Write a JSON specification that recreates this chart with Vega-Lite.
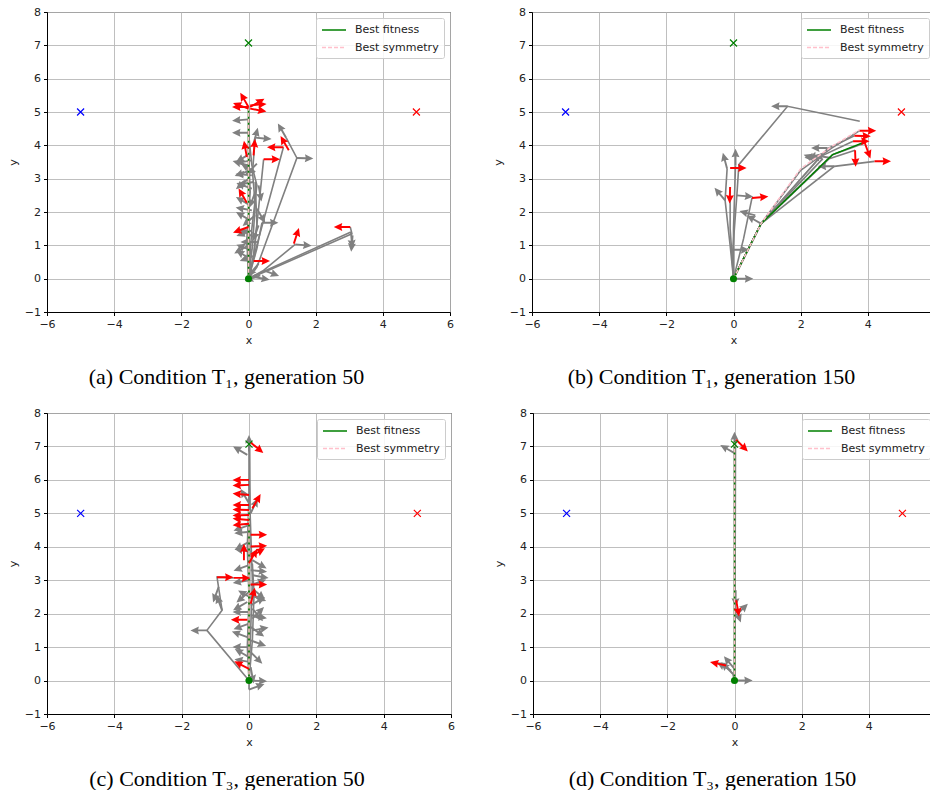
{
"$schema": "https://vega.github.io/schema/vega-lite/v6.json",
"padding": {"left": 6, "top": 5, "right": 0, "bottom": 0},
"config": {
  "font": "DejaVu Sans",
  "view": {"stroke": "#000", "strokeWidth": 1},
  "axis": {"domainColor": "#000", "domainWidth": 1, "tickColor": "#000", "tickSize": 3.5, "tickWidth": 1, "labelFont": "DejaVu Sans", "labelFontSize": 11, "labelColor": "#222", "labelPadding": 3, "titleFont": "DejaVu Sans", "titleFontSize": 11, "titleFontWeight": "normal", "titleColor": "#222", "gridColor": "#b8b8b8", "gridWidth": 0.9, "gridOpacity": 1, "labelFlush": false},
  "axisX": {"titlePadding": 5},
  "axisY": {"titlePadding": 6},
  "legend": {"orient": "top-right", "offset": 6, "padding": 5, "strokeColor": "#cccccc", "fillColor": "rgba(255,255,255,0.85)", "cornerRadius": 2, "labelFont": "DejaVu Sans", "labelFontSize": 11, "labelColor": "#222", "symbolType": "M-1,0L3,0", "symbolSize": 144, "symbolStrokeWidth": 1.5, "labelOffset": 20, "rowPadding": 5.6},
  "title": {"orient": "bottom", "anchor": "middle", "font": "Liberation Serif", "fontSize": 22, "fontWeight": "normal", "color": "#000", "offset": 21, "dx": -22}
},
"datasets": {
"points": [
  {"k": "goal", "x": 0, "y": 7.07},
  {"k": "left", "x": -5, "y": 5},
  {"k": "right", "x": 5, "y": 5},
  {"k": "start", "x": 0, "y": 0}
],
"best": [
  {"p":"a","s":"Best fitness","o":0,"x":0,"y":0},{"p":"a","s":"Best fitness","o":1,"x":0,"y":5.13},
  {"p":"a","s":"Best symmetry","o":0,"x":0,"y":0},{"p":"a","s":"Best symmetry","o":1,"x":0,"y":5.13},
  {"p":"b","s":"Best fitness","o":0,"x":0,"y":0},{"p":"b","s":"Best fitness","o":1,"x":0.82,"y":1.65},{"p":"b","s":"Best fitness","o":2,"x":2.95,"y":3.72},{"p":"b","s":"Best fitness","o":3,"x":3.91,"y":4.1},
  {"p":"b","s":"Best symmetry","o":0,"x":0,"y":0},{"p":"b","s":"Best symmetry","o":1,"x":0.82,"y":1.65},{"p":"b","s":"Best symmetry","o":2,"x":2.0,"y":3.3},{"p":"b","s":"Best symmetry","o":3,"x":2.9,"y":3.95},{"p":"b","s":"Best symmetry","o":4,"x":3.76,"y":4.47},
  {"p":"c","s":"Best fitness","o":0,"x":0,"y":0},{"p":"c","s":"Best fitness","o":1,"x":0,"y":5.1},
  {"p":"c","s":"Best symmetry","o":0,"x":0,"y":0},{"p":"c","s":"Best symmetry","o":1,"x":0,"y":5.1},
  {"p":"d","s":"Best fitness","o":0,"x":0,"y":0},{"p":"d","s":"Best fitness","o":1,"x":0,"y":7.15},
  {"p":"d","s":"Best symmetry","o":0,"x":0,"y":0},{"p":"d","s":"Best symmetry","o":1,"x":0,"y":7.15}
],
"paths": [
  {"p":"a","id":1,"o":0,"x":0,"y":0},{"p":"a","id":1,"o":1,"x":0.02,"y":1.0},{"p":"a","id":1,"o":2,"x":0,"y":2.5},{"p":"a","id":1,"o":3,"x":0.02,"y":4.0},{"p":"a","id":1,"o":4,"x":0,"y":5.15},
  {"p":"a","id":2,"o":0,"x":0,"y":0},{"p":"a","id":2,"o":1,"x":0.12,"y":1.0},{"p":"a","id":2,"o":2,"x":0.2,"y":2.2},{"p":"a","id":2,"o":3,"x":0.12,"y":3.2},{"p":"a","id":2,"o":4,"x":0.2,"y":4.23},
  {"p":"a","id":3,"o":0,"x":0,"y":0},{"p":"a","id":3,"o":1,"x":0.1,"y":0.45},{"p":"a","id":3,"o":2,"x":1.04,"y":3.94},
  {"p":"a","id":4,"o":0,"x":0,"y":0},{"p":"a","id":4,"o":1,"x":0.25,"y":0.35},{"p":"a","id":4,"o":2,"x":1.44,"y":3.62},{"p":"a","id":4,"o":3,"x":1.12,"y":4.23},
  {"p":"a","id":5,"o":0,"x":0,"y":0},{"p":"a","id":5,"o":1,"x":0.6,"y":0.25},{"p":"a","id":5,"o":2,"x":3.08,"y":1.35},{"p":"a","id":5,"o":3,"x":3.03,"y":1.55},
  {"p":"a","id":6,"o":0,"x":0,"y":0},{"p":"a","id":6,"o":1,"x":0.45,"y":0.25},{"p":"a","id":6,"o":2,"x":1.39,"y":1.03},
  {"p":"a","id":7,"o":0,"x":0,"y":0},{"p":"a","id":7,"o":1,"x":0.3,"y":0.15},{"p":"a","id":7,"o":2,"x":3.05,"y":1.4},
  {"p":"a","id":8,"o":0,"x":0,"y":0},{"p":"a","id":8,"o":1,"x":0.25,"y":0.9},{"p":"a","id":8,"o":2,"x":0.4,"y":1.68},
  {"p":"a","id":9,"o":0,"x":0,"y":0},{"p":"a","id":9,"o":1,"x":0.1,"y":1.5},{"p":"a","id":9,"o":2,"x":0.25,"y":2.8},{"p":"a","id":9,"o":3,"x":0.1,"y":3.4},{"p":"a","id":9,"o":4,"x":0,"y":4.38},
  {"p":"a","id":10,"o":0,"x":0,"y":0},{"p":"a","id":10,"o":1,"x":0.15,"y":0.7},{"p":"a","id":10,"o":2,"x":0.3,"y":2.1},{"p":"a","id":10,"o":3,"x":0.45,"y":3.58},
  {"p":"a","id":11,"o":0,"x":0,"y":0},{"p":"a","id":11,"o":1,"x":-0.05,"y":1.2},{"p":"a","id":11,"o":2,"x":0.05,"y":2.6},{"p":"a","id":11,"o":3,"x":0,"y":3.75},{"p":"a","id":11,"o":4,"x":0,"y":4.78},
  {"p":"a","id":12,"o":0,"x":0,"y":0},{"p":"a","id":12,"o":1,"x":0.15,"y":0.6},{"p":"a","id":12,"o":2,"x":0.25,"y":1.6},{"p":"a","id":12,"o":3,"x":0.2,"y":2.9},
  {"p":"b","id":1,"o":0,"x":0,"y":0},{"p":"b","id":1,"o":1,"x":0.82,"y":1.65},{"p":"b","id":1,"o":2,"x":2.0,"y":3.25},{"p":"b","id":1,"o":3,"x":2.9,"y":3.9},{"p":"b","id":1,"o":4,"x":3.76,"y":4.44},
  {"p":"b","id":2,"o":0,"x":0,"y":0},{"p":"b","id":2,"o":1,"x":0.82,"y":1.65},{"p":"b","id":2,"o":2,"x":2.95,"y":3.72},{"p":"b","id":2,"o":3,"x":3.91,"y":4.07},
  {"p":"b","id":3,"o":0,"x":0,"y":0},{"p":"b","id":3,"o":1,"x":0.82,"y":1.65},{"p":"b","id":3,"o":2,"x":3.0,"y":3.37},{"p":"b","id":3,"o":3,"x":4.2,"y":3.52},
  {"p":"b","id":4,"o":0,"x":0,"y":0},{"p":"b","id":4,"o":1,"x":0.82,"y":1.65},{"p":"b","id":4,"o":2,"x":2.6,"y":3.67},{"p":"b","id":4,"o":3,"x":3.56,"y":4.12},
  {"p":"b","id":5,"o":0,"x":0,"y":0},{"p":"b","id":5,"o":1,"x":0.82,"y":1.65},{"p":"b","id":5,"o":2,"x":2.8,"y":3.9},{"p":"b","id":5,"o":3,"x":3.6,"y":4.29},
  {"p":"b","id":6,"o":0,"x":0,"y":0},{"p":"b","id":6,"o":1,"x":0.82,"y":1.65},{"p":"b","id":6,"o":2,"x":2.85,"y":3.6},{"p":"b","id":6,"o":3,"x":3.62,"y":3.85},
  {"p":"b","id":7,"o":0,"x":0,"y":0},{"p":"b","id":7,"o":1,"x":-0.02,"y":0.87},{"p":"b","id":7,"o":2,"x":0.1,"y":2.5},{"p":"b","id":7,"o":3,"x":0.16,"y":3.42},{"p":"b","id":7,"o":4,"x":1.61,"y":5.17},{"p":"b","id":7,"o":5,"x":3.76,"y":4.72},
  {"p":"b","id":8,"o":0,"x":0,"y":0},{"p":"b","id":8,"o":1,"x":-0.1,"y":1.0},{"p":"b","id":8,"o":2,"x":-0.25,"y":2.35},{"p":"b","id":8,"o":3,"x":-0.19,"y":3.3},
  {"p":"b","id":9,"o":0,"x":0,"y":0},{"p":"b","id":9,"o":1,"x":0,"y":1.5},{"p":"b","id":9,"o":2,"x":0.06,"y":3.4},
  {"p":"b","id":10,"o":0,"x":0,"y":0},{"p":"b","id":10,"o":1,"x":0.3,"y":1.2},{"p":"b","id":10,"o":2,"x":0.55,"y":2.42},
  {"p":"b","id":11,"o":0,"x":0,"y":0},{"p":"b","id":11,"o":1,"x":-0.1,"y":1.5},{"p":"b","id":11,"o":2,"x":-0.1,"y":2.75},
  {"p":"b","id":12,"o":0,"x":0,"y":0},{"p":"b","id":12,"o":1,"x":0.82,"y":1.65},{"p":"b","id":12,"o":2,"x":2.66,"y":3.6},
  {"p":"c","id":1,"o":0,"x":0,"y":0},{"p":"c","id":1,"o":1,"x":0,"y":2},{"p":"c","id":1,"o":2,"x":0,"y":4},{"p":"c","id":1,"o":3,"x":0,"y":5.1},{"p":"c","id":1,"o":4,"x":0,"y":7.1},
  {"p":"c","id":2,"o":0,"x":0,"y":0},{"p":"c","id":2,"o":1,"x":0.02,"y":3},{"p":"c","id":2,"o":2,"x":0.03,"y":5.5},{"p":"c","id":2,"o":3,"x":0.02,"y":7.15},
  {"p":"c","id":3,"o":0,"x":0,"y":0},{"p":"c","id":3,"o":1,"x":-1.25,"y":1.5},{"p":"c","id":3,"o":2,"x":-0.8,"y":2.1},{"p":"c","id":3,"o":3,"x":-0.95,"y":3.09},{"p":"c","id":3,"o":4,"x":-0.45,"y":3.07},
  {"p":"c","id":4,"o":0,"x":0,"y":0},{"p":"c","id":4,"o":1,"x":0.05,"y":1.5},{"p":"c","id":4,"o":2,"x":0.1,"y":3.0},{"p":"c","id":4,"o":3,"x":0.05,"y":4.5},{"p":"c","id":4,"o":4,"x":0,"y":6.0},
  {"p":"c","id":5,"o":0,"x":0,"y":0},{"p":"c","id":5,"o":1,"x":0,"y":-0.27},
  {"p":"c","id":6,"o":0,"x":0,"y":0},{"p":"c","id":6,"o":1,"x":-0.05,"y":1.0},{"p":"c","id":6,"o":2,"x":0,"y":2.5},{"p":"c","id":6,"o":3,"x":-0.05,"y":4.0},{"p":"c","id":6,"o":4,"x":0,"y":5.5},
  {"p":"c","id":7,"o":0,"x":0,"y":0},{"p":"c","id":7,"o":1,"x":0.1,"y":1.2},{"p":"c","id":7,"o":2,"x":0.15,"y":2.6},{"p":"c","id":7,"o":3,"x":0.1,"y":3.5},
  {"p":"d","id":1,"o":0,"x":0,"y":0},{"p":"d","id":1,"o":1,"x":0,"y":7.15},
  {"p":"d","id":2,"o":0,"x":0,"y":0},{"p":"d","id":2,"o":1,"x":0.02,"y":2.0},{"p":"d","id":2,"o":2,"x":0.03,"y":2.7},
  {"p":"d","id":3,"o":0,"x":0,"y":0},{"p":"d","id":3,"o":1,"x":-0.05,"y":0.2},{"p":"d","id":3,"o":2,"x":-0.25,"y":0.45},
  {"p":"d","id":4,"o":0,"x":0,"y":0},{"p":"d","id":4,"o":1,"x":0.02,"y":3.5},{"p":"d","id":4,"o":2,"x":0.03,"y":7.2}
],
"arrows": [
  {"p":"a","c":"g","x":0,"y":4.78,"a":265},{"p":"a","c":"g","x":0,"y":4.38,"a":270},{"p":"a","c":"g","x":0.2,"y":4.23,"a":95},{"p":"a","c":"g","x":0.15,"y":4.05,"a":15},
  {"p":"a","c":"g","x":0.05,"y":3.75,"a":240},{"p":"a","c":"g","x":0.1,"y":3.55,"a":260},{"p":"a","c":"g","x":0,"y":3.4,"a":285},{"p":"a","c":"g","x":0.05,"y":3.25,"a":250},{"p":"a","c":"g","x":0.1,"y":3.1,"a":275},{"p":"a","c":"g","x":0,"y":3.0,"a":230},{"p":"a","c":"g","x":0.2,"y":3.2,"a":300},{"p":"a","c":"g","x":0.15,"y":2.9,"a":260},{"p":"a","c":"g","x":0.1,"y":2.7,"a":290},{"p":"a","c":"g","x":0.2,"y":2.6,"a":200},{"p":"a","c":"g","x":0.3,"y":2.8,"a":170},{"p":"a","c":"g","x":0.25,"y":3.45,"a":225},
  {"p":"a","c":"g","x":0.05,"y":2.2,"a":300},{"p":"a","c":"g","x":0.1,"y":2.05,"a":280},{"p":"a","c":"g","x":0.25,"y":2.1,"a":150},{"p":"a","c":"g","x":0.2,"y":1.9,"a":230},{"p":"a","c":"g","x":0.05,"y":1.75,"a":300},{"p":"a","c":"g","x":0.3,"y":1.6,"a":200},{"p":"a","c":"g","x":0.4,"y":1.68,"a":90},{"p":"a","c":"g","x":0.1,"y":1.45,"a":250},{"p":"a","c":"g","x":0.15,"y":1.25,"a":300},{"p":"a","c":"g","x":0.25,"y":1.1,"a":270},{"p":"a","c":"g","x":0,"y":1.0,"a":240},{"p":"a","c":"g","x":0.1,"y":0.85,"a":290},{"p":"a","c":"g","x":0.2,"y":0.7,"a":250},{"p":"a","c":"g","x":0.05,"y":0.6,"a":300},{"p":"a","c":"g","x":0.3,"y":0.45,"a":220},{"p":"a","c":"g","x":0.45,"y":0.25,"a":110},{"p":"a","c":"g","x":0.15,"y":0.05,"a":100},{"p":"a","c":"g","x":0.35,"y":0.1,"a":250},
  {"p":"a","c":"g","x":1.44,"y":3.62,"a":92},{"p":"a","c":"g","x":1.39,"y":1.03,"a":95},{"p":"a","c":"g","x":3.05,"y":1.4,"a":175},{"p":"a","c":"g","x":3.1,"y":1.3,"a":185},{"p":"a","c":"g","x":1.12,"y":4.23,"a":330},
  {"p":"a","c":"r","x":0,"y":5.15,"a":270},{"p":"a","c":"r","x":0,"y":5.15,"a":330},{"p":"a","c":"r","x":0.05,"y":5.15,"a":60},{"p":"a","c":"r","x":0.05,"y":5.2,"a":85},{"p":"a","c":"r","x":0,"y":5.1,"a":290},{"p":"a","c":"r","x":0.05,"y":5.1,"a":100},
  {"p":"a","c":"r","x":1.04,"y":3.94,"a":270},{"p":"a","c":"r","x":1.2,"y":3.85,"a":330},{"p":"a","c":"r","x":0.45,"y":3.58,"a":90},{"p":"a","c":"r","x":0.15,"y":3.7,"a":5},{"p":"a","c":"r","x":-0.05,"y":3.65,"a":350},{"p":"a","c":"r","x":-0.05,"y":2.28,"a":330},{"p":"a","c":"r","x":0,"y":1.55,"a":250},{"p":"a","c":"r","x":0.15,"y":0.53,"a":90},{"p":"a","c":"r","x":1.35,"y":1.05,"a":18},{"p":"a","c":"r","x":3.03,"y":1.55,"a":270},
  {"p":"b","c":"g","x":0.1,"y":0,"a":90},{"p":"b","c":"g","x":-0.02,"y":0.87,"a":90},{"p":"b","c":"g","x":0.1,"y":2.5,"a":95},{"p":"b","c":"g","x":-0.25,"y":2.35,"a":320},{"p":"b","c":"g","x":0.06,"y":3.4,"a":0},{"p":"b","c":"g","x":-0.19,"y":3.3,"a":345},{"p":"b","c":"g","x":0.82,"y":1.65,"a":300},{"p":"b","c":"g","x":0.65,"y":1.9,"a":285},{"p":"b","c":"g","x":1.61,"y":5.17,"a":270},{"p":"b","c":"g","x":3.0,"y":3.37,"a":270},{"p":"b","c":"g","x":2.8,"y":3.92,"a":270},{"p":"b","c":"g","x":2.6,"y":3.67,"a":265},{"p":"b","c":"g","x":2.7,"y":3.75,"a":255},{"p":"b","c":"g","x":2.55,"y":3.55,"a":290},{"p":"b","c":"g","x":2.9,"y":3.62,"a":280},
  {"p":"b","c":"r","x":3.76,"y":4.44,"a":90},{"p":"b","c":"r","x":3.6,"y":4.29,"a":92},{"p":"b","c":"r","x":3.56,"y":4.12,"a":90},{"p":"b","c":"r","x":3.62,"y":3.85,"a":178},{"p":"b","c":"r","x":3.91,"y":4.07,"a":160},{"p":"b","c":"r","x":4.2,"y":3.52,"a":90},{"p":"b","c":"r","x":-0.1,"y":3.32,"a":90},{"p":"b","c":"r","x":-0.1,"y":2.75,"a":182},{"p":"b","c":"r","x":0.55,"y":2.42,"a":85},
  {"p":"c","c":"g","x":-0.05,"y":6.75,"a":300},{"p":"c","c":"g","x":0,"y":6.85,"a":0},{"p":"c","c":"g","x":0,"y":5.3,"a":330},{"p":"c","c":"g","x":0.05,"y":5.0,"a":25},{"p":"c","c":"g","x":0,"y":4.65,"a":250},{"p":"c","c":"g","x":0.05,"y":4.45,"a":265},{"p":"c","c":"g","x":0,"y":4.15,"a":240},{"p":"c","c":"g","x":0.05,"y":3.85,"a":280},{"p":"c","c":"g","x":0.1,"y":3.6,"a":120},{"p":"c","c":"g","x":0,"y":3.45,"a":250},{"p":"c","c":"g","x":0.05,"y":3.3,"a":95},{"p":"c","c":"g","x":0.1,"y":3.15,"a":100},{"p":"c","c":"g","x":0,"y":3.0,"a":260},{"p":"c","c":"g","x":0.05,"y":2.85,"a":70},{"p":"c","c":"g","x":0.1,"y":2.75,"a":130},{"p":"c","c":"g","x":0,"y":2.65,"a":230},{"p":"c","c":"g","x":0.05,"y":2.55,"a":110},{"p":"c","c":"g","x":0.1,"y":2.45,"a":300},{"p":"c","c":"g","x":-0.05,"y":2.35,"a":240},{"p":"c","c":"g","x":0.05,"y":2.25,"a":60},{"p":"c","c":"g","x":0.1,"y":2.15,"a":140},{"p":"c","c":"g","x":0,"y":2.05,"a":270},{"p":"c","c":"g","x":0.05,"y":1.95,"a":100},{"p":"c","c":"g","x":0.1,"y":1.85,"a":45},{"p":"c","c":"g","x":0,"y":1.7,"a":250},{"p":"c","c":"g","x":0.05,"y":1.6,"a":125},{"p":"c","c":"g","x":0.1,"y":1.5,"a":80},{"p":"c","c":"g","x":-0.05,"y":1.3,"a":290},{"p":"c","c":"g","x":0.05,"y":1.2,"a":110},{"p":"c","c":"g","x":0,"y":1.0,"a":270},{"p":"c","c":"g","x":0.05,"y":0.85,"a":135},{"p":"c","c":"g","x":0,"y":0.7,"a":300},{"p":"c","c":"g","x":0.05,"y":0.55,"a":280},{"p":"c","c":"g","x":0.05,"y":0.4,"a":170},{"p":"c","c":"g","x":0.05,"y":0,"a":92},{"p":"c","c":"g","x":0,"y":-0.27,"a":70},{"p":"c","c":"g","x":-1.25,"y":1.5,"a":270},{"p":"c","c":"g","x":-0.8,"y":2.1,"a":340},{"p":"c","c":"g","x":-0.9,"y":2.8,"a":200},
  {"p":"c","c":"r","x":0,"y":6.0,"a":270},{"p":"c","c":"r","x":0,"y":5.85,"a":268},{"p":"c","c":"r","x":0,"y":5.55,"a":275},{"p":"c","c":"r","x":0,"y":5.25,"a":270},{"p":"c","c":"r","x":0,"y":5.1,"a":272},{"p":"c","c":"r","x":0,"y":4.95,"a":268},{"p":"c","c":"r","x":0,"y":4.8,"a":275},{"p":"c","c":"r","x":0,"y":4.69,"a":265},{"p":"c","c":"r","x":0.1,"y":5.15,"a":30},{"p":"c","c":"r","x":0.05,"y":4.36,"a":90},{"p":"c","c":"r","x":0.05,"y":4.01,"a":88},{"p":"c","c":"r","x":0.05,"y":3.71,"a":60},{"p":"c","c":"r","x":0,"y":3.51,"a":30},{"p":"c","c":"r","x":0.05,"y":2.87,"a":90},{"p":"c","c":"r","x":-0.95,"y":3.09,"a":90},{"p":"c","c":"r","x":-0.45,"y":3.07,"a":90},{"p":"c","c":"r","x":0.05,"y":2.3,"a":15},{"p":"c","c":"r","x":-0.05,"y":1.82,"a":270},{"p":"c","c":"r","x":0,"y":0.35,"a":297},{"p":"c","c":"r","x":0.05,"y":7.12,"a":130},{"p":"c","c":"r","x":-0.15,"y":3.6,"a":0},
  {"p":"d","c":"g","x":0,"y":6.8,"a":300},{"p":"d","c":"g","x":0,"y":6.95,"a":0},{"p":"d","c":"g","x":0.03,"y":2.7,"a":180},{"p":"d","c":"g","x":0.05,"y":1.95,"a":45},{"p":"d","c":"g","x":0.02,"y":2.2,"a":160},{"p":"d","c":"g","x":-0.05,"y":0.2,"a":315},{"p":"d","c":"g","x":0,"y":0.35,"a":320},{"p":"d","c":"g","x":-0.1,"y":0.3,"a":300},{"p":"d","c":"g","x":0.05,"y":0,"a":90},
  {"p":"d","c":"r","x":0.05,"y":7.2,"a":135},{"p":"d","c":"r","x":-0.25,"y":0.45,"a":282},{"p":"d","c":"r","x":0.05,"y":2.4,"a":170}
]
},
"resolve": {"scale": {"color": "independent", "strokeDash": "independent"}, "legend": {"color": "independent", "strokeDash": "independent"}},
"spacing": 18,
"vconcat": [
{"hconcat": [
{
 "width": 403, "height": 300,
 "title": {"text": "(a) Condition T₁, generation 50"},
 "encoding": {
  "x": {"field": "x", "type": "quantitative", "scale": {"domain": [-6, 6], "nice": false, "zero": false}, "axis": {"values": [-6,-4,-2,0,2,4,6], "title": "x"}},
  "y": {"field": "y", "type": "quantitative", "scale": {"domain": [-1, 8], "nice": false, "zero": false}, "axis": {"values": [-1,0,1,2,3,4,5,6,7,8], "title": "y"}}
 },
 "layer": [
  {"data": {"name": "paths"}, "transform": [{"filter": "datum.p=='a'"}], "mark": {"type": "line", "color": "#808080", "strokeWidth": 1.6}, "encoding": {"detail": {"field": "id"}, "order": {"field": "o"}}},
  {"data": {"name": "arrows"}, "transform": [{"filter": "datum.p=='a' && datum.c=='g'"}], "mark": {"type": "point", "shape": "M-0.06,0L-0.06,-0.55L-0.25,-0.5L0,-1.03L0.25,-0.5L0.06,-0.55L0.06,0Z", "size": 1024, "filled": true, "color": "#808080", "opacity": 1, "strokeWidth": 0}, "encoding": {"angle": {"field": "a", "type": "quantitative", "scale": null}}},
  {"data": {"name": "best"}, "transform": [{"filter": "datum.p=='a' && datum.s=='Best fitness'"}], "mark": {"type": "line", "strokeWidth": 1.5}, "encoding": {"order": {"field": "o"}, "color": {"field": "s", "type": "nominal", "scale": {"domain": ["Best fitness", "Best symmetry"], "range": ["#008000", "#ffc0cb"]}, "legend": {"title": null}}, "strokeDash": {"field": "s", "type": "nominal", "scale": {"domain": ["Best fitness", "Best symmetry"], "range": [[1, 0], [4, 2]]}, "legend": {"title": null}}}},
  {"data": {"name": "best"}, "transform": [{"filter": "datum.p=='a' && datum.s=='Best symmetry'"}], "mark": {"type": "line", "strokeWidth": 1.5}, "encoding": {"order": {"field": "o"}, "color": {"field": "s", "type": "nominal"}, "strokeDash": {"field": "s", "type": "nominal"}}},
  {"data": {"name": "arrows"}, "transform": [{"filter": "datum.p=='a' && datum.c=='r'"}], "mark": {"type": "point", "shape": "M-0.06,0L-0.06,-0.55L-0.25,-0.5L0,-1.03L0.25,-0.5L0.06,-0.55L0.06,0Z", "size": 1024, "filled": true, "color": "#ff0000", "opacity": 1, "strokeWidth": 0}, "encoding": {"angle": {"field": "a", "type": "quantitative", "scale": null}}},
  {"data": {"name": "points"}, "transform": [{"filter": "datum.k!='start'"}], "mark": {"type": "point", "shape": "M-1,-1L1,1M-1,1L1,-1", "size": 49, "strokeWidth": 1.2, "opacity": 1}, "encoding": {"stroke": {"field": "k", "type": "nominal", "scale": {"domain": ["goal", "left", "right"], "range": ["#008000", "#0000ff", "#ff0000"]}, "legend": null}}},
  {"data": {"name": "points"}, "transform": [{"filter": "datum.k=='start'"}], "mark": {"type": "circle", "color": "#008000", "size": 50, "opacity": 1}}
 ]
},
{
 "width": 403, "height": 300,
 "title": {"text": "(b) Condition T₁, generation 150"},
 "encoding": {
  "x": {"field": "x", "type": "quantitative", "scale": {"domain": [-6, 6], "nice": false, "zero": false}, "axis": {"values": [-6,-4,-2,0,2,4,6], "title": "x"}},
  "y": {"field": "y", "type": "quantitative", "scale": {"domain": [-1, 8], "nice": false, "zero": false}, "axis": {"values": [-1,0,1,2,3,4,5,6,7,8], "title": "y"}}
 },
 "layer": [
  {"data": {"name": "paths"}, "transform": [{"filter": "datum.p=='b'"}], "mark": {"type": "line", "color": "#808080", "strokeWidth": 1.6}, "encoding": {"detail": {"field": "id"}, "order": {"field": "o"}}},
  {"data": {"name": "arrows"}, "transform": [{"filter": "datum.p=='b' && datum.c=='g'"}], "mark": {"type": "point", "shape": "M-0.06,0L-0.06,-0.55L-0.25,-0.5L0,-1.03L0.25,-0.5L0.06,-0.55L0.06,0Z", "size": 1024, "filled": true, "color": "#808080", "opacity": 1, "strokeWidth": 0}, "encoding": {"angle": {"field": "a", "type": "quantitative", "scale": null}}},
  {"data": {"name": "best"}, "transform": [{"filter": "datum.p=='b' && datum.s=='Best fitness'"}], "mark": {"type": "line", "strokeWidth": 1.5}, "encoding": {"order": {"field": "o"}, "color": {"field": "s", "type": "nominal", "scale": {"domain": ["Best fitness", "Best symmetry"], "range": ["#008000", "#ffc0cb"]}, "legend": {"title": null}}, "strokeDash": {"field": "s", "type": "nominal", "scale": {"domain": ["Best fitness", "Best symmetry"], "range": [[1, 0], [4, 2]]}, "legend": {"title": null}}}},
  {"data": {"name": "best"}, "transform": [{"filter": "datum.p=='b' && datum.s=='Best symmetry'"}], "mark": {"type": "line", "strokeWidth": 1.5}, "encoding": {"order": {"field": "o"}, "color": {"field": "s", "type": "nominal"}, "strokeDash": {"field": "s", "type": "nominal"}}},
  {"data": {"name": "arrows"}, "transform": [{"filter": "datum.p=='b' && datum.c=='r'"}], "mark": {"type": "point", "shape": "M-0.06,0L-0.06,-0.55L-0.25,-0.5L0,-1.03L0.25,-0.5L0.06,-0.55L0.06,0Z", "size": 1024, "filled": true, "color": "#ff0000", "opacity": 1, "strokeWidth": 0}, "encoding": {"angle": {"field": "a", "type": "quantitative", "scale": null}}},
  {"data": {"name": "points"}, "transform": [{"filter": "datum.k!='start'"}], "mark": {"type": "point", "shape": "M-1,-1L1,1M-1,1L1,-1", "size": 49, "strokeWidth": 1.2, "opacity": 1}, "encoding": {"stroke": {"field": "k", "type": "nominal", "scale": {"domain": ["goal", "left", "right"], "range": ["#008000", "#0000ff", "#ff0000"]}, "legend": null}}},
  {"data": {"name": "points"}, "transform": [{"filter": "datum.k=='start'"}], "mark": {"type": "circle", "color": "#008000", "size": 50, "opacity": 1}}
 ]
}
], "spacing": 37, "resolve": {"scale": {"color": "independent", "strokeDash": "independent"}, "legend": {"color": "independent", "strokeDash": "independent"}}},
{"hconcat": [
{
 "width": 404, "height": 301,
 "title": {"text": "(c) Condition T₃, generation 50"},
 "encoding": {
  "x": {"field": "x", "type": "quantitative", "scale": {"domain": [-6, 6], "nice": false, "zero": false}, "axis": {"values": [-6,-4,-2,0,2,4,6], "title": "x"}},
  "y": {"field": "y", "type": "quantitative", "scale": {"domain": [-1, 8], "nice": false, "zero": false}, "axis": {"values": [-1,0,1,2,3,4,5,6,7,8], "title": "y"}}
 },
 "layer": [
  {"data": {"name": "paths"}, "transform": [{"filter": "datum.p=='c'"}], "mark": {"type": "line", "color": "#808080", "strokeWidth": 1.6}, "encoding": {"detail": {"field": "id"}, "order": {"field": "o"}}},
  {"data": {"name": "arrows"}, "transform": [{"filter": "datum.p=='c' && datum.c=='g'"}], "mark": {"type": "point", "shape": "M-0.06,0L-0.06,-0.55L-0.25,-0.5L0,-1.03L0.25,-0.5L0.06,-0.55L0.06,0Z", "size": 1024, "filled": true, "color": "#808080", "opacity": 1, "strokeWidth": 0}, "encoding": {"angle": {"field": "a", "type": "quantitative", "scale": null}}},
  {"data": {"name": "best"}, "transform": [{"filter": "datum.p=='c' && datum.s=='Best fitness'"}], "mark": {"type": "line", "strokeWidth": 1.5}, "encoding": {"order": {"field": "o"}, "color": {"field": "s", "type": "nominal", "scale": {"domain": ["Best fitness", "Best symmetry"], "range": ["#008000", "#ffc0cb"]}, "legend": {"title": null}}, "strokeDash": {"field": "s", "type": "nominal", "scale": {"domain": ["Best fitness", "Best symmetry"], "range": [[1, 0], [4, 2]]}, "legend": {"title": null}}}},
  {"data": {"name": "best"}, "transform": [{"filter": "datum.p=='c' && datum.s=='Best symmetry'"}], "mark": {"type": "line", "strokeWidth": 1.5}, "encoding": {"order": {"field": "o"}, "color": {"field": "s", "type": "nominal"}, "strokeDash": {"field": "s", "type": "nominal"}}},
  {"data": {"name": "arrows"}, "transform": [{"filter": "datum.p=='c' && datum.c=='r'"}], "mark": {"type": "point", "shape": "M-0.06,0L-0.06,-0.55L-0.25,-0.5L0,-1.03L0.25,-0.5L0.06,-0.55L0.06,0Z", "size": 1024, "filled": true, "color": "#ff0000", "opacity": 1, "strokeWidth": 0}, "encoding": {"angle": {"field": "a", "type": "quantitative", "scale": null}}},
  {"data": {"name": "points"}, "transform": [{"filter": "datum.k!='start'"}], "mark": {"type": "point", "shape": "M-1,-1L1,1M-1,1L1,-1", "size": 49, "strokeWidth": 1.2, "opacity": 1}, "encoding": {"stroke": {"field": "k", "type": "nominal", "scale": {"domain": ["goal", "left", "right"], "range": ["#008000", "#0000ff", "#ff0000"]}, "legend": null}}},
  {"data": {"name": "points"}, "transform": [{"filter": "datum.k=='start'"}], "mark": {"type": "circle", "color": "#008000", "size": 50, "opacity": 1}}
 ]
},
{
 "width": 403, "height": 301,
 "title": {"text": "(d) Condition T₃, generation 150"},
 "encoding": {
  "x": {"field": "x", "type": "quantitative", "scale": {"domain": [-6, 6], "nice": false, "zero": false}, "axis": {"values": [-6,-4,-2,0,2,4,6], "title": "x"}},
  "y": {"field": "y", "type": "quantitative", "scale": {"domain": [-1, 8], "nice": false, "zero": false}, "axis": {"values": [-1,0,1,2,3,4,5,6,7,8], "title": "y"}}
 },
 "layer": [
  {"data": {"name": "paths"}, "transform": [{"filter": "datum.p=='d'"}], "mark": {"type": "line", "color": "#808080", "strokeWidth": 1.6}, "encoding": {"detail": {"field": "id"}, "order": {"field": "o"}}},
  {"data": {"name": "arrows"}, "transform": [{"filter": "datum.p=='d' && datum.c=='g'"}], "mark": {"type": "point", "shape": "M-0.06,0L-0.06,-0.55L-0.25,-0.5L0,-1.03L0.25,-0.5L0.06,-0.55L0.06,0Z", "size": 1024, "filled": true, "color": "#808080", "opacity": 1, "strokeWidth": 0}, "encoding": {"angle": {"field": "a", "type": "quantitative", "scale": null}}},
  {"data": {"name": "best"}, "transform": [{"filter": "datum.p=='d' && datum.s=='Best fitness'"}], "mark": {"type": "line", "strokeWidth": 1.5}, "encoding": {"order": {"field": "o"}, "color": {"field": "s", "type": "nominal", "scale": {"domain": ["Best fitness", "Best symmetry"], "range": ["#008000", "#ffc0cb"]}, "legend": {"title": null}}, "strokeDash": {"field": "s", "type": "nominal", "scale": {"domain": ["Best fitness", "Best symmetry"], "range": [[1, 0], [4, 2]]}, "legend": {"title": null}}}},
  {"data": {"name": "best"}, "transform": [{"filter": "datum.p=='d' && datum.s=='Best symmetry'"}], "mark": {"type": "line", "strokeWidth": 1.5}, "encoding": {"order": {"field": "o"}, "color": {"field": "s", "type": "nominal"}, "strokeDash": {"field": "s", "type": "nominal"}}},
  {"data": {"name": "arrows"}, "transform": [{"filter": "datum.p=='d' && datum.c=='r'"}], "mark": {"type": "point", "shape": "M-0.06,0L-0.06,-0.55L-0.25,-0.5L0,-1.03L0.25,-0.5L0.06,-0.55L0.06,0Z", "size": 1024, "filled": true, "color": "#ff0000", "opacity": 1, "strokeWidth": 0}, "encoding": {"angle": {"field": "a", "type": "quantitative", "scale": null}}},
  {"data": {"name": "points"}, "transform": [{"filter": "datum.k!='start'"}], "mark": {"type": "point", "shape": "M-1,-1L1,1M-1,1L1,-1", "size": 49, "strokeWidth": 1.2, "opacity": 1}, "encoding": {"stroke": {"field": "k", "type": "nominal", "scale": {"domain": ["goal", "left", "right"], "range": ["#008000", "#0000ff", "#ff0000"]}, "legend": null}}},
  {"data": {"name": "points"}, "transform": [{"filter": "datum.k=='start'"}], "mark": {"type": "circle", "color": "#008000", "size": 50, "opacity": 1}}
 ]
}
], "spacing": 37, "resolve": {"scale": {"color": "independent", "strokeDash": "independent"}, "legend": {"color": "independent", "strokeDash": "independent"}}}
]
}
